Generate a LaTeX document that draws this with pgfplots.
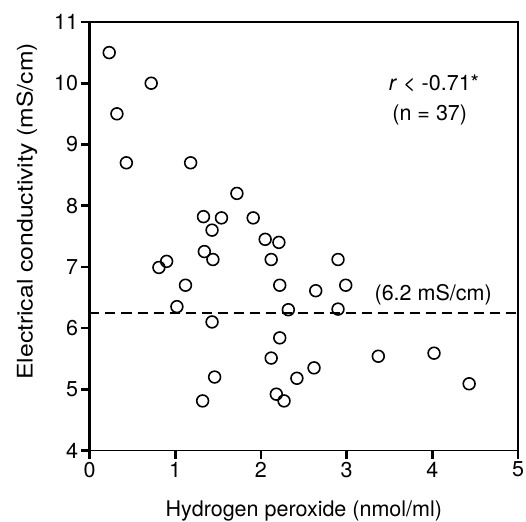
\documentclass[border=0pt]{standalone}
\usepackage{fontspec}
\setmainfont{TeX Gyre Heros}
\usepackage{pgfplots}
\pgfplotsset{compat=1.18}
\begin{document}
\begin{tikzpicture}
\useasboundingbox (-89.5pt,-70.5pt) rectangle (436.5pt,450.5pt);
\begin{axis}[
  at={(0pt,0pt)}, anchor=south west,
  scale only axis,
  width=428.5pt, height=428.5pt,
  xmin=0, xmax=5, ymin=4, ymax=11,
  xtick={0,1,2,3,4,5}, ytick={4,5,6,7,8,9,10,11},
  tick align=outside,
  xtick pos=bottom, ytick pos=left,
  major tick length=8pt,
  every tick/.style={black, line width=2.6pt},
  axis line style={line width=1.6pt},
  /pgf/number format/assume math mode=true,
  tick label style={font=\fontsize{21.5}{25}\selectfont},
  label style={font=\fontsize{21.5}{25}\selectfont},
  xlabel={Hydrogen peroxide (nmol/ml)},
  ylabel={\scalebox{1.15}[1]{Electrical conductivity (mS/cm)}},
  xlabel style={at={(axis description cs:0.5,0)}, anchor=base, yshift=-66pt},
  ylabel style={at={(axis description cs:-0.146,0.558)}, anchor=center},
  clip=false,
]
\draw[black, line width=2.6pt, line cap=rect] (rel axis cs:0,0) -- (rel axis cs:0,1) -- (rel axis cs:1,1);
\addplot[only marks, mark=o, mark size=5.9pt, mark options={line width=1.6pt, fill=none, draw=black}] coordinates {
(0.23,10.5) (0.72,10.0) (0.32,9.5) (0.43,8.7) (1.18,8.7) (1.72,8.2)
(1.33,7.82) (1.54,7.8) (1.91,7.8) (1.43,7.6) (2.05,7.45) (2.21,7.4)
(1.34,7.25) (1.44,7.12) (2.12,7.12) (0.90,7.09) (0.81,6.99) (1.12,6.7)
(2.22,6.7) (1.02,6.35) (2.32,6.3) (1.43,6.1) (2.22,5.84) (2.12,5.51)
(1.46,5.2) (2.42,5.18) (2.18,4.92) (2.27,4.81) (1.32,4.81) (2.90,7.12)
(2.64,6.61) (2.99,6.7) (2.90,6.31) (3.37,5.54) (4.02,5.59) (4.43,5.09)
(2.62,5.35)
};
\addplot[black, line width=2pt, dash pattern=on 10pt off 6pt] coordinates {(0,6.25) (5,6.25)};
\node[font=\fontsize{21.5}{25}\selectfont] at (axis cs:4.02,10.0) {\textit{r} < -0.71*};
\node[font=\fontsize{21.5}{25}\selectfont] at (axis cs:3.97,9.48) {(n = 37)};
\node[font=\fontsize{21.5}{25}\selectfont] at (axis cs:4.01,6.54) {(6.2 mS/cm)};
\end{axis}
\end{tikzpicture}
\end{document}
